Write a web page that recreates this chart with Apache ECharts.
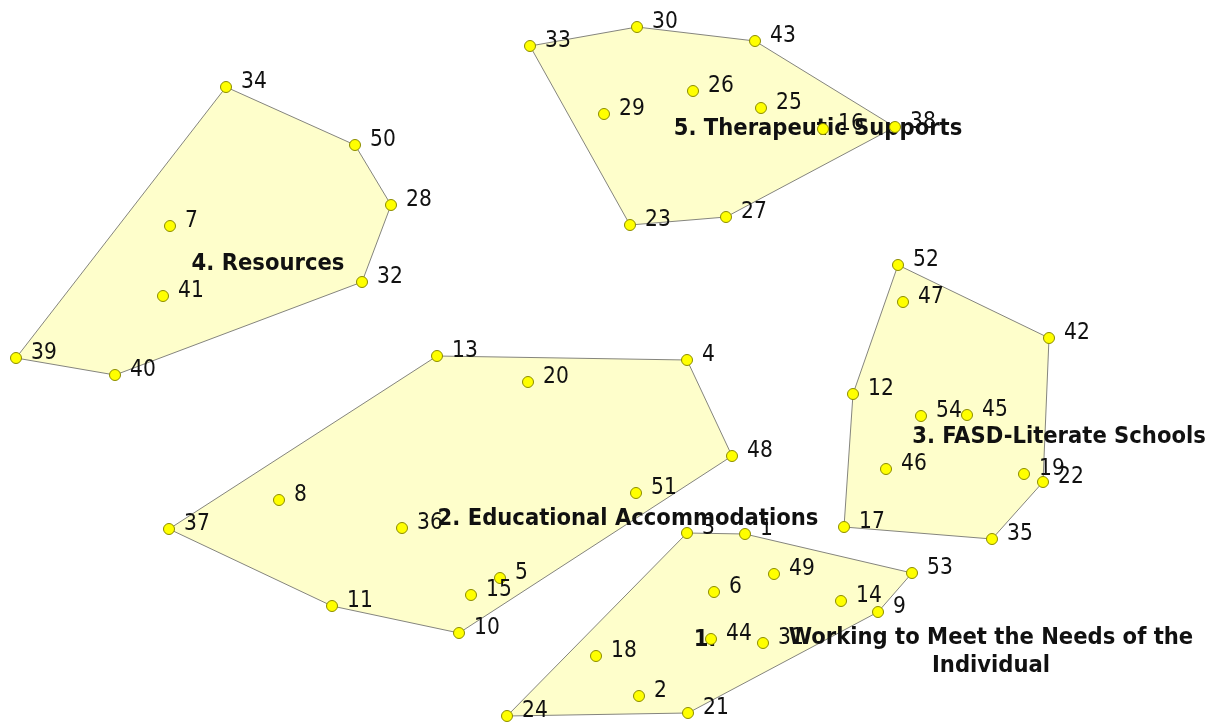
<!DOCTYPE html>
<html>
<head>
<meta charset="utf-8">
<script src="https://cdn.jsdelivr.net/npm/echarts@6/dist/echarts.min.js"></script>
<style>
html,body{margin:0;padding:0;background:#fff;}
#chart{width:1217px;height:726px;}
</style>
</head>
<body>
<div id="chart"></div>
<script>
// Statement points (map coordinates)
const pointIds = [1,2,3,4,5,6,7,8,9,10,11,12,13,14,15,16,17,18,19,20,21,22,23,24,25,26,27,28,29,30,31,32,33,34,35,36,37,38,39,40,41,42,43,44,45,46,47,48,49,50,51,52,53,54];
const pointX = [745,639,687,687,500,714,170,279,878,459,332,853,437,841,471,823,844,596,1024,528,688,1043,630,507,761,693,726,391,604,637,763,362,530,226,992,402,169,895,16,115,163,1049,755,711,967,886,903,732,774,355,636,898,912,921];
const pointY = [534,696,533,360,578,592,226,500,612,633,606,394,356,601,595,129,527,656,474,382,713,482,225,716,108,91,217,205,114,27,643,282,46,87,539,528,529,127,358,375,296,338,41,639,415,469,302,456,574,145,493,265,573,416];

// Cluster hulls (ids of boundary points, in order)
const hull1 = [3,1,53,9,21,24];
const hull2 = [13,4,48,10,11,37];
const hull3 = [52,42,22,35,17,12];
const hull4 = [34,50,28,32,40,39];
const hull5 = [33,30,43,38,27,23];
const hulls = [hull1, hull2, hull3, hull4, hull5];

// Cluster label texts and anchor positions
const clusterLabels = ['1.', 'Working to Meet the Needs of the\nIndividual', '2. Educational Accommodations', '3. FASD-Literate Schools', '4. Resources', '5. Therapeutic Supports'];
const clusterLabelX = [705, 991, 628, 1059, 268, 818];
const clusterLabelY = [640, 652, 519, 437, 264, 129];

const FONT = "'DejaVu Sans Condensed', 'DejaVu Sans', sans-serif";

const chart = echarts.init(document.getElementById('chart'), null, {renderer: 'canvas'});

function lookup(id) {
  const i = pointIds.indexOf(id);
  return [pointX[i], pointY[i]];
}

const option = {
  backgroundColor: '#ffffff',
  animation: false,
  grid: {left: 0, right: 0, top: 0, bottom: 0},
  xAxis: {type: 'value', min: 0, max: 1217, show: false},
  yAxis: {type: 'value', min: 0, max: 726, inverse: true, show: false},
  series: [
    {
      type: 'custom',
      z: 1,
      silent: true,
      data: hulls.map((h, i) => [lookup(h[0])[0], lookup(h[0])[1], i]),
      encode: {x: 0, y: 1},
      renderItem: function (params, api) {
        const idx = api.value(2);
        const pts = hulls[idx].map(id => api.coord(lookup(id)));
        return {
          type: 'polygon',
          shape: {points: pts},
          style: {fill: '#FEFECB', stroke: '#85857E', lineWidth: 1}
        };
      }
    },
    {
      type: 'scatter',
      z: 2,
      silent: true,
      symbolSize: 0,
      itemStyle: {opacity: 1},
      data: clusterLabels.map((t, i) => ({value: [clusterLabelX[i], clusterLabelY[i]], name: t})),
      label: {
        show: true,
        position: 'inside',
        formatter: p => p.name,
        color: '#111111',
        opacity: 1,
        fontFamily: FONT,
        fontSize: 23.5,
        fontWeight: 'bold',
        lineHeight: 28,
        align: 'center'
      }
    },
    {
      type: 'scatter',
      z: 3,
      symbol: 'circle',
      symbolSize: 11,
      itemStyle: {color: '#FFFF00', borderColor: '#8C8C00', borderWidth: 1, opacity: 1},
      data: pointIds.map((id, i) => ({value: [pointX[i], pointY[i]], name: String(id)})),
      label: {
        show: true,
        position: 'right',
        distance: 9,
        offset: [0, -5],
        formatter: p => p.name,
        color: '#111111',
        fontFamily: FONT,
        fontSize: 22.5
      }
    }
  ]
};
chart.setOption(option);
</script>
</body>
</html>
